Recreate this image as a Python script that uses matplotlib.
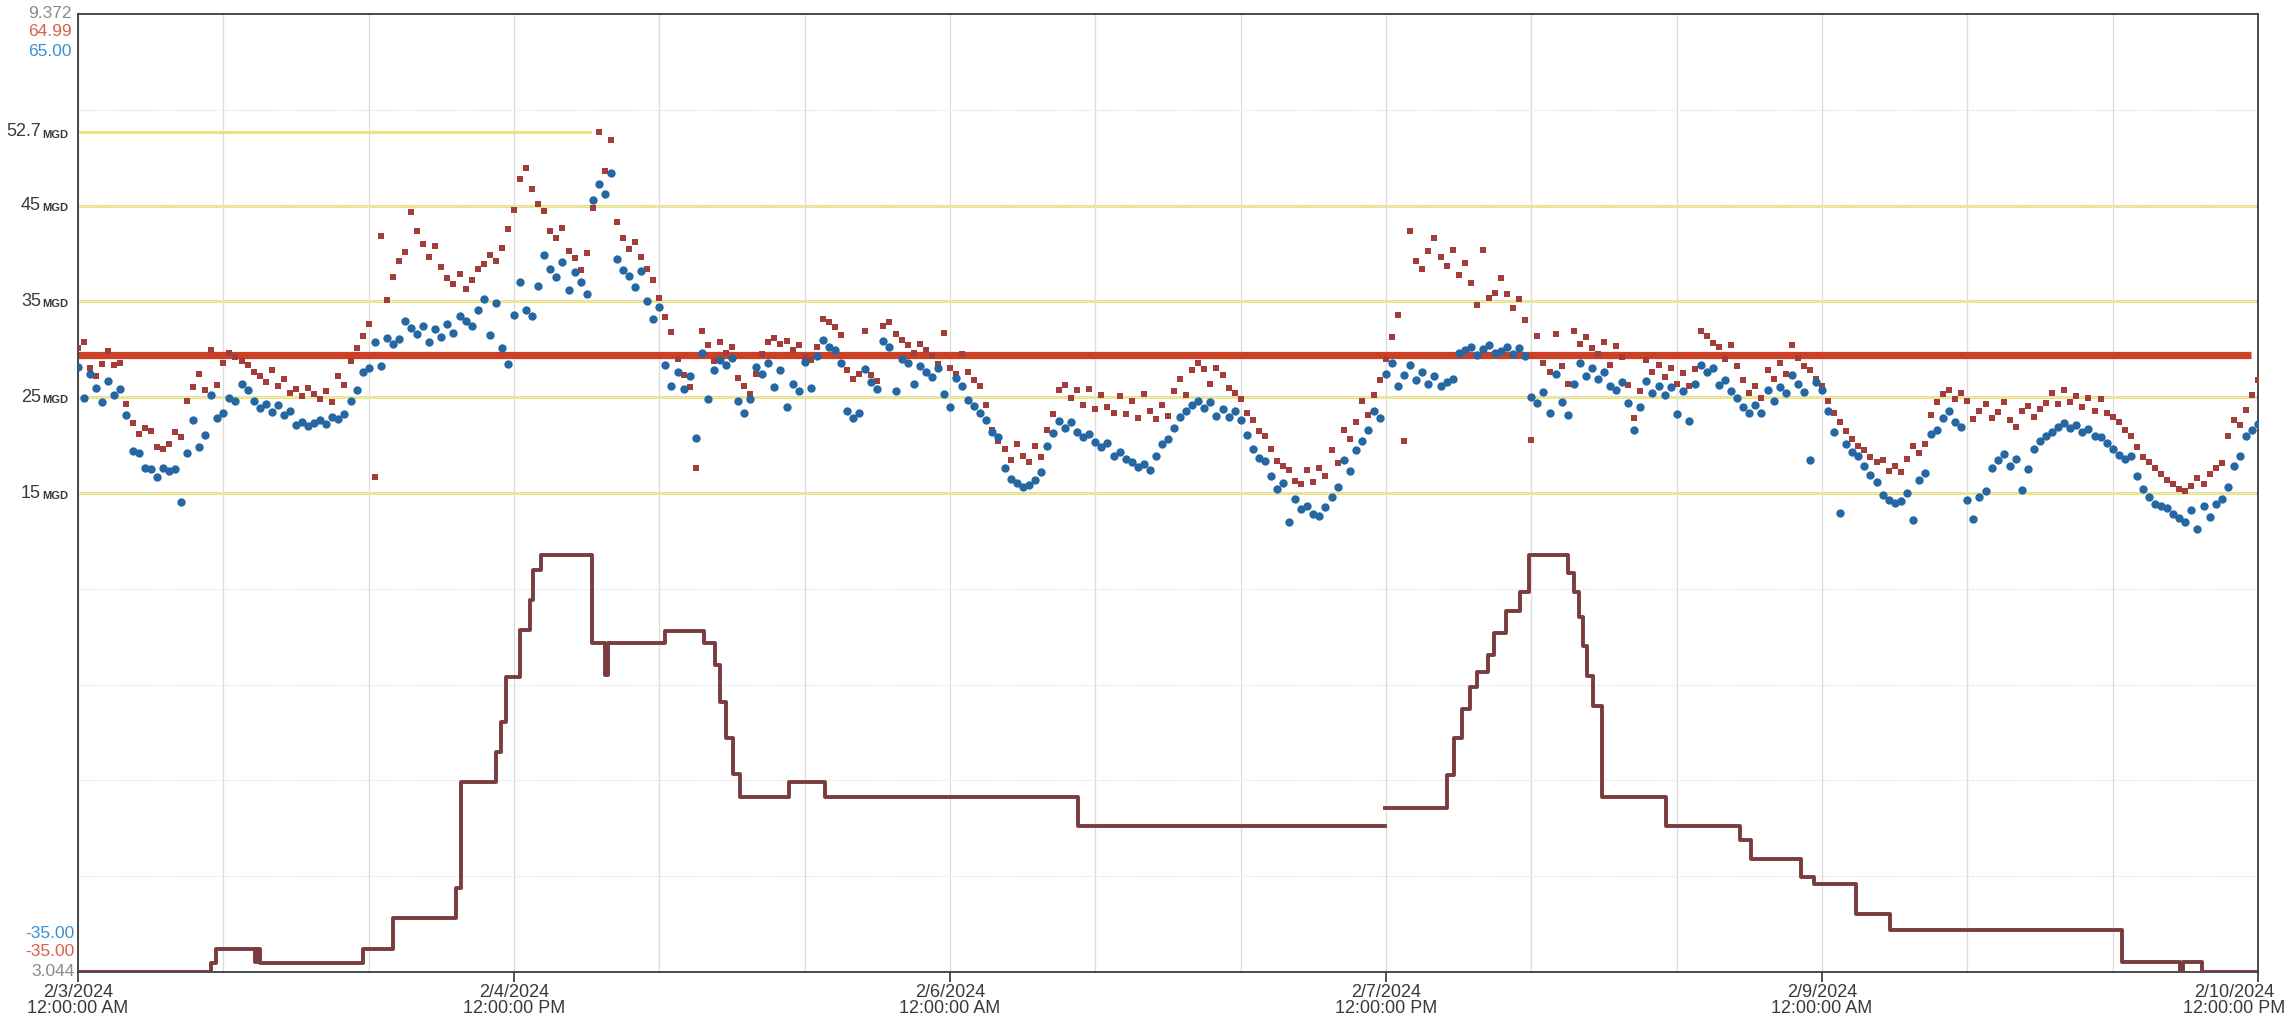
import numpy as np
import pandas as pd
import matplotlib
matplotlib.use('Agg')
import matplotlib.pyplot as plt
import matplotlib.dates as mdates
from matplotlib.transforms import blended_transform_factory, ScaledTranslation

plt.rcParams['font.family'] = ['Liberation Sans Narrow', 'Liberation Sans', 'DejaVu Sans']

# 30 min samples, 2/3 00:00 -> 2/10 12:00
start = pd.Timestamp('2024-02-03 00:00')
end = pd.Timestamp('2024-02-10 12:00')
times = pd.date_range(start, end, freq='30min')

# flow readings (MGD)
flow_red = [
    30.1, 30.8, 28.0, 27.2, 28.5, 29.8, 28.4, 28.6, 24.3, 22.3, 21.2, 21.8, 21.5,
    19.8, 19.6, 20.1, 21.4, 20.8, 24.6, 26.1, 27.4, 25.8, 29.9, 26.3, 28.6,
    29.6, 29.2, 28.8, 28.4, 27.6, 27.2, 26.6, 27.8, 26.2, 26.9, 25.4, 25.9,
    25.1, 26.0, 25.3, 24.8, 25.6, 24.5, 27.2, 26.3, 28.8, 30.1, 31.4, 32.6,
    16.7, 41.8, 35.1, 37.5, 39.2, 40.2, 44.3, 42.4, 41.0, 39.6, 40.8, 38.6,
    37.4, 36.8, 37.9, 36.3, 37.2, 38.4, 38.9, 39.8, 39.2, 40.6, 42.6, 44.5,
    47.8, 48.9, 46.7, 45.2, 44.4, 42.3, 41.6, 42.7, 40.3, 39.5, 38.3, 40.1,
    44.7, 52.7, 48.6, 51.8, 43.3, 41.6, 40.5, 41.2, 39.6, 38.4, 37.2, 35.4,
    33.4, 31.8, 29.0, 27.3, 26.1, 17.6, 31.9, 30.4, 28.8, 30.8, 29.6, 30.2,
    27.0, 26.2, 25.3, 27.4, 29.5, 30.8, 31.2, 30.6, 30.9, 29.9, 30.4, 29.2,
    28.9, 30.2, 33.2, 32.8, 32.3, 31.5, 27.8, 26.9, 27.4, 31.9, 27.3, 26.7,
    32.4, 32.9, 31.6, 31.0, 30.4, 29.6, 30.6, 29.9, 29.3, 28.5, 31.7, 28.1,
    27.4, 29.5, 27.6, 26.8, 26.2, 24.2, 21.6, 20.4, 19.6, 18.4, 20.1, 18.9,
    18.2, 19.9, 18.8, 21.6, 23.2, 25.7, 26.3, 24.9, 25.8, 24.2, 25.9, 23.8,
    25.2, 24.0, 23.4, 25.1, 23.2, 24.6, 22.8, 25.3, 23.6, 22.7, 24.2, 23.0,
    25.6, 26.9, 25.2, 27.8, 28.6, 27.9, 26.4, 28.0, 27.3, 26.0, 25.4, 24.8,
    23.4, 22.6, 21.5, 20.9, 19.6, 18.3, 17.8, 17.4, 16.3, 15.9, 17.4, 16.2,
    17.6, 16.8, 19.5, 18.1, 21.6, 20.6, 22.4, 24.6, 23.1, 25.2, 26.8, 29.0,
    31.3, 33.6, 20.4, 42.3, 39.2, 38.4, 40.3, 41.6, 39.6, 38.7, 40.4, 37.8,
    39.0, 36.9, 34.6, 40.4, 35.4, 35.9, 37.4, 35.8, 34.3, 35.2, 33.1, 20.5,
    31.4, 28.6, 27.6, 31.6, 28.3, 26.4, 31.9, 30.6, 31.3, 30.1, 29.5, 30.8,
    28.4, 30.3, 29.2, 26.3, 22.8, 25.6, 28.9, 27.6, 28.4, 27.1, 28.0, 26.4,
    27.5, 26.2, 27.9, 31.9, 31.4, 30.7, 30.2, 29.0, 30.4, 28.3, 26.8, 25.4,
    26.2, 24.9, 27.8, 26.9, 28.6, 27.4, 30.4, 29.1, 28.3, 27.8, 26.9, 26.2,
    24.6, 23.3, 22.4, 21.5, 20.6, 19.9, 19.5, 18.8, 18.2, 18.4, 17.3, 17.8,
    17.2, 18.6, 19.9, 19.2, 20.1, 23.1, 24.5, 25.3, 25.7, 24.8, 25.4, 24.6,
    22.7, 23.6, 24.3, 22.8, 23.5, 24.5, 22.6, 21.9, 23.6, 24.1, 22.9, 23.8,
    24.4, 25.4, 24.3, 25.7, 24.5, 25.1, 24.0, 24.9, 23.6, 24.8, 23.3, 22.9,
    22.4, 21.6, 21.0, 19.8, 18.8, 18.2, 17.6, 17.0, 16.4, 15.9, 15.4, 15.2,
    15.7, 16.6, 15.9, 17.0, 17.6, 18.1, 20.9, 22.6, 22.1, 23.7, 25.2, 26.8,
]

flow_blue = [
    28.2, 24.9, 27.4, 26.0, 24.5, 26.7, 25.2, 25.9, 23.1, 19.4, 19.2, 17.6, 17.5,
    16.7, 17.6, 17.3, 17.5, 14.1, 19.2, 22.6, 19.8, 21.1, 25.2, 22.8, 23.3,
    24.9, 24.6, 26.4, 25.7, 24.6, 23.9, 24.3, 23.5, 24.2, 23.1, 23.6, 22.1,
    22.4, 22.0, 22.3, 22.6, 22.2, 22.9, 22.7, 23.2, 24.6, 25.7, 27.6, 28.1,
    30.8, 28.3, 31.2, 30.6, 31.1, 33.0, 32.2, 31.6, 32.4, 30.8, 32.1, 31.3,
    32.6, 31.7, 33.5, 33.0, 32.4, 34.1, 35.2, 31.5, 34.8, 30.1, 28.5, 33.6,
    37.0, 34.1, 33.5, 36.6, 39.8, 38.4, 37.5, 39.1, 36.2, 38.1, 37.0, 35.8,
    45.6, 47.3, 46.2, 48.4, 39.4, 38.3, 37.6, 36.5, 38.2, 35.0, 33.2, 34.4,
    28.4, 26.2, 27.6, 25.9, 27.2, 20.7, 29.6, 24.8, 27.8, 28.9, 28.4, 29.1,
    24.6, 23.4, 24.8, 28.2, 27.4, 28.6, 26.1, 27.8, 24.0, 26.4, 25.6, 28.7,
    26.0, 29.3, 31.0, 30.2, 29.9, 28.6, 23.6, 22.8, 23.4, 27.9, 26.6, 25.9,
    30.9, 30.2, 25.6, 29.0, 28.6, 26.4, 28.3, 27.6, 27.1, 28.0, 25.3, 24.0,
    27.0, 26.2, 24.7, 24.1, 23.4, 22.6, 21.4, 20.8, 17.6, 16.5, 16.0, 15.6,
    15.8, 16.4, 17.2, 19.9, 21.3, 22.5, 21.8, 22.4, 21.4, 20.8, 21.2, 20.3,
    19.8, 20.2, 18.9, 19.3, 18.6, 18.2, 17.7, 18.0, 17.4, 18.9, 20.1, 20.6,
    21.8, 22.9, 23.6, 24.2, 24.6, 23.9, 24.5, 23.0, 23.8, 22.9, 23.6, 22.6,
    21.1, 19.6, 18.7, 18.3, 16.8, 15.4, 16.0, 12.0, 14.4, 13.3, 13.6, 12.8,
    12.6, 13.5, 14.6, 15.6, 18.4, 17.3, 19.5, 20.4, 21.6, 23.6, 22.8, 27.4,
    28.6, 26.2, 27.3, 28.4, 26.8, 27.6, 26.4, 27.2, 26.2, 26.6, 26.9, 29.6,
    29.9, 30.2, 29.4, 30.0, 30.5, 29.6, 29.8, 30.2, 29.5, 30.1, 29.3, 25.0,
    24.4, 25.5, 23.4, 27.4, 24.5, 23.1, 26.4, 28.6, 27.2, 28.0, 26.9, 27.6,
    26.2, 25.8, 26.6, 24.4, 21.6, 24.0, 26.7, 25.4, 26.2, 25.2, 26.1, 23.2,
    25.6, 22.5, 26.4, 28.4, 27.6, 28.0, 26.3, 26.8, 25.6, 24.9, 24.0, 23.3,
    24.2, 23.4, 25.7, 24.6, 26.1, 25.4, 27.3, 26.4, 25.5, 18.4, 26.6, 25.8,
    23.6, 21.4, 12.9, 20.1, 19.3, 18.9, 17.8, 16.9, 16.2, 14.8, 14.3, 14.0,
    14.2, 15.0, 12.2, 16.4, 17.1, 21.2, 21.6, 22.8, 23.6, 22.4, 21.9, 14.3,
    12.3, 14.6, 15.2, 17.6, 18.4, 19.1, 17.8, 18.6, 15.3, 17.5, 19.6, 20.4,
    20.9, 21.4, 21.9, 22.3, 21.8, 22.1, 21.4, 21.7, 21.0, 20.8, 20.2, 19.6,
    19.0, 18.6, 18.9, 16.8, 15.4, 14.6, 13.8, 13.6, 13.4, 12.8, 12.4, 12.0,
    13.2, 11.2, 13.6, 12.5, 13.9, 14.4, 15.6, 17.8, 18.9, 20.9, 21.6, 22.2,
]

assert len(flow_red) == len(times) and len(flow_blue) == len(times)

# stepped trace on its own scale (3.044 .. 9.372); hours since start
step_hours = [0, 11.0, 11.4, 14.6, 14.8, 15.0, 23.5, 26.0, 31.2, 31.6, 34.5, 34.9, 35.3,
              36.5, 37.3, 37.6, 38.2, 42.4, 43.5, 43.8, 48.5, 51.7, 52.6, 53.0, 53.5,
              54.1, 54.7, 58.7, 61.7, 82.6, 107.9, 107.9, 113.0, 113.6, 114.3, 114.9,
              115.5, 116.4, 116.9, 117.9, 119.1, 119.8, 123.0, 123.5, 123.9, 124.3,
              124.6, 125.1, 125.8, 131.1, 137.2, 138.1, 142.3, 143.3, 146.8, 149.6,
              168.8, 173.6, 173.8, 175.4, 180]
step_vals = [3.044, 3.103, 3.196, 3.110, 3.196, 3.103, 3.196, 3.401, 3.599, 4.299, 4.497,
             4.695, 4.992, 5.303, 5.501, 5.699, 5.798, 5.217, 5.006, 5.217, 5.296, 5.217,
             5.070, 4.830, 4.590, 4.350, 4.200, 4.300, 4.200, 4.009, np.nan, 4.130, 4.345,
             4.590, 4.781, 4.927, 5.025, 5.138, 5.283, 5.428, 5.554, 5.798, 5.679, 5.554,
             5.390, 5.200, 5.000, 4.800, 4.200, 4.009, 3.915, 3.790, 3.671, 3.625, 3.428,
             3.322, 3.110, 3.044, 3.110, 3.044, 3.044]

ref_levels = [52.7, 45, 35, 25, 15]
ref_labels = ['52.7', '45', '35', '25', '15']
target_level = 29.4

tick_times = ['2024-02-03 00:00', '2024-02-04 12:00', '2024-02-06 00:00',
              '2024-02-07 12:00', '2024-02-09 00:00', '2024-02-10 12:00']
tick_labels = ['2/3/2024\n12:00:00 AM', '2/4/2024\n12:00:00 PM', '2/6/2024\n12:00:00 AM',
               '2/7/2024\n12:00:00 PM', '2/9/2024\n12:00:00 AM', '2/10/2024\n12:00:00 PM']

W, H = 2292, 1016
fig = plt.figure(figsize=(W / 100, H / 100), dpi=100)
ax = fig.add_axes([78 / W, 1 - 972 / H, (2258 - 78) / W, (972 - 14) / H])

ax.set_xlim(start, end)
ax.set_ylim(-35, 65)

# grid
ax.set_yticks(np.arange(-25, 60, 10))
ax.tick_params(axis='y', length=0, labelleft=False)
ax.xaxis.set_minor_locator(mdates.HourLocator(byhour=[0, 12]))
ax.grid(True, which='both', axis='x', color='#dcdcdc', lw=0.9, zorder=0)
ax.grid(True, which='major', axis='y', color='#e8e8e8', lw=0.9, ls=(0, (2, 1)), zorder=0)
ax.tick_params(axis='x', which='minor', length=0)

# reference lines
for lvl in ref_levels:
    if lvl == 52.7:
        ax.plot([start, start + pd.Timedelta(hours=42.3)], [lvl, lvl], color='#eee27c', lw=2.2, zorder=1)
    else:
        ax.axhline(lvl, color='#eee27c', lw=2.2, zorder=1)

ax.plot([start, start + pd.Timedelta(hours=179.4)], [target_level, target_level],
        color='#cc4125', lw=5.2, zorder=2, solid_capstyle='butt')

ax.scatter(times, flow_red, marker='s', s=24, color='#a23d3a', linewidths=0, zorder=3)
ax.scatter(times, flow_blue, marker='o', s=36, color='#2467a3', linewidths=0, zorder=4)

ax2 = ax.twinx()
ax2.set_ylim(3.044, 9.372)
ax2.set_yticks([])
for s in ax2.spines.values():
    s.set_visible(False)
step_times = [start + pd.Timedelta(hours=h) for h in step_hours]
ax2.step(step_times, step_vals, where='post', color='#7a3c3d', lw=2.8, zorder=5)
ax2.set_xlim(start, end)

for s in ax.spines.values():
    s.set_color('#3a3a3a')
    s.set_linewidth(1.3)

ax.set_xticks(pd.to_datetime(tick_times))
ax.set_xticklabels(tick_labels)
ax.tick_params(axis='x', which='major', length=7, width=1.2, color='#333333',
               labelsize=13, labelcolor='#3a3a3a', pad=1.5)
for lab in ax.get_xticklabels():
    lab.set_linespacing(0.95)
# keep the last date label inside the picture
last = ax.get_xticklabels()[-1]
last.set_transform(last.get_transform() + ScaledTranslation(-0.24, 0, fig.dpi_scale_trans))

# left side labels
tr = blended_transform_factory(fig.transFigure, ax.transData)
for lvl, txt in zip(ref_levels, ref_labels):
    ax.text(41 / W, lvl, txt, transform=tr, ha='right', va='center', fontsize=13,
            color='#3a3a3a', clip_on=False)
    ax.text(42 / W, lvl - 0.3, 'MGD', transform=tr, ha='left', va='center', fontsize=8,
            fontweight='bold', family=['Liberation Sans', 'DejaVu Sans'], color='#3a3a3a', clip_on=False)

def side_label(x, y, txt, col):
    fig.text(x / W, 1 - y / H, txt, ha='right', va='center', fontsize=12.5, color=col)

side_label(72, 14, '9.372', '#8a8a8a')
side_label(72, 32, '64.99', '#d9604f')
side_label(72, 52, '65.00', '#3b8fd0')
side_label(75, 933, '-35.00', '#3b8fd0')
side_label(75, 952, '-35.00', '#d9604f')
side_label(75, 971, '3.044', '#8a8a8a')

fig.savefig('out.png', dpi=100, facecolor='white')
